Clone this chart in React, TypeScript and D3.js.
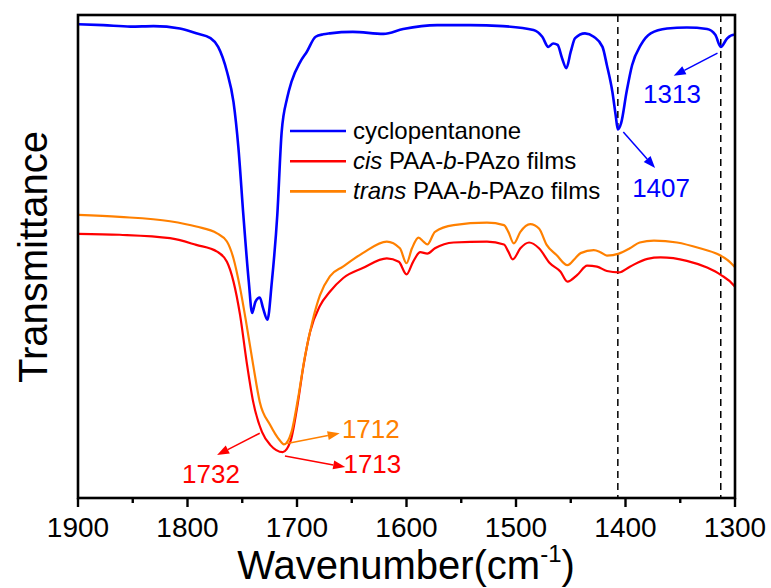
import React from "react";
import * as d3 from "d3";

// ---- data (wavenumber cm^-1, transmittance a.u.) ----
const blueWn = [1900,1877,1852,1831,1807,1792,1779,1772,1764,1758,1753.5,1749,1744,1741,1738,1734,1731,1727,1723,1718,1714,1709,1705,1697,1691,1683,1676,1670,1649,1621,1603,1572,1542,1512,1484,1476,1470.5,1466,1462,1458,1454,1450,1446,1437,1429,1421,1417,1412,1409,1407,1404,1399,1394,1386,1377,1362,1344,1325.5,1318,1313,1307,1301,1300];
const blueT = [98.1,97.9,97.6,97.7,97.2,96.2,95.2,93.4,88.3,82.0,72.5,58.6,44.7,38.3,40.6,41.5,39.3,36.9,44.7,58.6,75.8,82.8,86.2,90.3,92.4,95.5,96.0,96.2,96.5,96.1,97.1,97.9,97.9,97.7,96.9,95.5,93.4,94.1,93.8,91.1,89.0,92.4,95.2,96.2,95.5,93.4,89.6,84.1,79.3,76.3,77.6,84.1,89.6,93.8,96.2,97.2,97.4,97.1,95.9,93.4,95.2,95.9,95.9];

const transWn = [1900,1862,1816,1792,1773,1764,1758,1752,1746,1740,1734,1724.5,1716,1712,1705,1699,1693,1686,1679,1670,1658,1640,1618,1606,1600,1595,1589,1584.5,1581,1574,1557,1526.5,1511,1507,1502,1496,1487,1479,1472,1463,1453,1446,1441,1429,1423,1417,1406,1396,1387,1374,1353,1332,1316,1307,1300];
const transT = [58.6,58.2,57.3,56.2,54.8,53.1,49.6,43.5,35.8,27.5,19.9,15.1,12.0,11.1,13.7,20.7,29.0,36.5,42.0,45.9,47.9,50.7,53.1,51.7,48.6,51.7,53.9,53.1,52.5,55.1,56.5,57.0,56.5,55.1,52.7,55.1,56.7,55.8,52.4,50.3,48.2,49.6,50.7,51.3,50.9,50.2,50.6,51.7,52.9,53.3,52.9,51.7,50.5,49.3,47.8];

const cisWn = [1900,1862,1816,1792,1773,1764,1758,1752,1746,1740,1732,1724.5,1713,1706,1700,1694,1688,1679,1670,1658,1640,1618,1607,1600,1594,1587.5,1581,1574,1557,1526.5,1511,1507,1503,1496,1488,1479,1469,1459.5,1453,1444,1435,1426,1417,1406,1396,1380,1368,1344,1325.5,1313,1301,1300];
const cisT = [54.7,54.5,53.8,52.4,51.0,48.9,44.8,37.9,28.2,19.9,13.7,11.0,9.5,11.7,18.6,27.5,34.4,39.8,42.7,45.5,47.6,49.6,48.9,46.3,48.9,50.9,50.6,51.7,52.9,53.1,52.5,51.0,49.4,51.7,52.9,51.7,48.6,46.9,44.8,46.2,48.1,47.9,47.0,46.7,47.9,49.5,49.8,49.1,47.7,46.2,44.0,43.7];

const xTicks = [1900, 1800, 1700, 1600, 1500, 1400, 1300];
const xMinorTicks = [1850, 1750, 1650, 1550, 1450, 1350];
const dashedWn = [1407, 1313];

const legendNames = ["cyclopentanone", "cis PAA-b-PAzo films", "trans PAA-b-PAzo films"];
const seriesColors = ["#0000ff", "#ff0000", "#ff8000"];

// annotations: label, color, arrow start/end (wn, T), text anchor pos (wn, T), anchor
const annLabels = ["1313", "1407", "1712", "1713", "1732"];
const annColors = ["#0000ff", "#0000ff", "#ff8000", "#ff0000", "#ff0000"];
const annFromWn = [1316, 1402, 1709, 1711, 1734];
const annFromT = [92.1, 75.8, 11.3, 8.7, 13.4];
const annToWn = [1356, 1373, 1661, 1656, 1773];
const annToT = [87.4, 68.3, 13.4, 6.4, 8.9];
const annTextWn = [1357.5, 1367.5, 1659, 1657.6, 1805];
const annTextT = [81.8, 62.4, 12.4, 5.1, 3.1];
const annAnchor = ["middle", "middle", "start", "start", "start"];

const W = 771, H = 588;
const L = 78, R = 735, T0 = 15, B = 498;
const FONT = "Arial, 'Liberation Sans', sans-serif";

function Arrow({ x1, y1, x2, y2, color }: any) {
  const ang = Math.atan2(y2 - y1, x2 - x1);
  const len = 12, half = 4.5;
  const bx = x2 - len * Math.cos(ang), by = y2 - len * Math.sin(ang);
  const px = -Math.sin(ang) * half, py = Math.cos(ang) * half;
  return (
    <g>
      <line x1={x1} y1={y1} x2={bx} y2={by} stroke={color} strokeWidth={1.5} />
      <polygon points={`${x2},${y2} ${bx + px},${by + py} ${bx - px},${by - py}`} fill={color} />
    </g>
  );
}

export default function App() {
  const x = d3.scaleLinear().domain([1900, 1300]).range([L, R]);
  const y = d3.scaleLinear().domain([0, 100]).range([B, T0]);
  const line = d3.line<[number, number]>().x(d => x(d[0])).y(d => y(d[1])).curve(d3.curveMonotoneX);
  const mk = (wn: number[], t: number[]) => wn.map((w, i) => [w, t[i]] as [number, number]);
  const series = [mk(blueWn, blueT), mk(cisWn, cisT), mk(transWn, transT)];
  const widths = [2.6, 2.2, 2.2];
  const drawOrder = [1, 2, 0];

  return (
    <div style={{ position: "absolute", left: 0, top: 0 }}>
      <svg width={W} height={H} style={{ display: "block", background: "#fff" }} fontFamily={FONT}>
        <defs>
          <clipPath id="plot"><rect x={L} y={T0} width={R - L} height={B - T0} /></clipPath>
        </defs>
        {dashedWn.map(w => (
          <line key={w} x1={x(w)} x2={x(w)} y1={T0} y2={B} stroke="#000" strokeWidth={1.5} strokeDasharray="7,5" />
        ))}
        <g clipPath="url(#plot)">
          {drawOrder.map(i => (
            <path key={i} d={line(series[i]) || ""} fill="none" stroke={seriesColors[i]} strokeWidth={widths[i]} strokeLinejoin="round" />
          ))}
        </g>
        {/* frame */}
        <rect x={L} y={T0} width={R - L} height={B - T0} fill="none" stroke="#000" strokeWidth={2.6} />
        {/* ticks */}
        {xTicks.map(t => (
          <g key={t}>
            <line x1={x(t)} x2={x(t)} y1={B} y2={B + 9} stroke="#000" strokeWidth={2.4} />
            <text x={x(t)} y={537} textAnchor="middle" fontSize={28} fill="#000">{t}</text>
          </g>
        ))}
        {xMinorTicks.map(t => (
          <line key={t} x1={x(t)} x2={x(t)} y1={B} y2={B + 5} stroke="#000" strokeWidth={2.4} />
        ))}
        {/* axis titles */}
        <text x={406} y={579} textAnchor="middle" fontSize={40} fill="#000">
          Wavenumber(cm<tspan fontSize={24} dy={-17}>-1</tspan><tspan dy={17}>)</tspan>
        </text>
        <text transform="translate(47,257) rotate(-90)" textAnchor="middle" fontSize={40} fill="#000">Transmittance</text>
        {/* legend */}
        {legendNames.map((n, i) => {
          const ly = 131 + i * 30.2;
          return (
            <g key={n}>
              <line x1={290} x2={346} y1={ly} y2={ly} stroke={seriesColors[i]} strokeWidth={2.6} />
              <text x={353} y={ly + 8} fontSize={24} fill="#000">
                {i === 0 ? n : (
                  <>
                    <tspan fontStyle="italic">{i === 1 ? "cis" : "trans"}</tspan>
                    {" PAA-"}<tspan fontStyle="italic">b</tspan>{"-PAzo films"}
                  </>
                )}
              </text>
            </g>
          );
        })}
        {/* annotations */}
        {annLabels.map((lab, i) => (
          <g key={lab}>
            <Arrow x1={x(annFromWn[i])} y1={y(annFromT[i])} x2={x(annToWn[i])} y2={y(annToT[i])} color={annColors[i]} />
            <text x={x(annTextWn[i])} y={y(annTextT[i])} textAnchor={annAnchor[i]} fontSize={26} fill={annColors[i]}>{lab}</text>
          </g>
        ))}
      </svg>
    </div>
  );
}
